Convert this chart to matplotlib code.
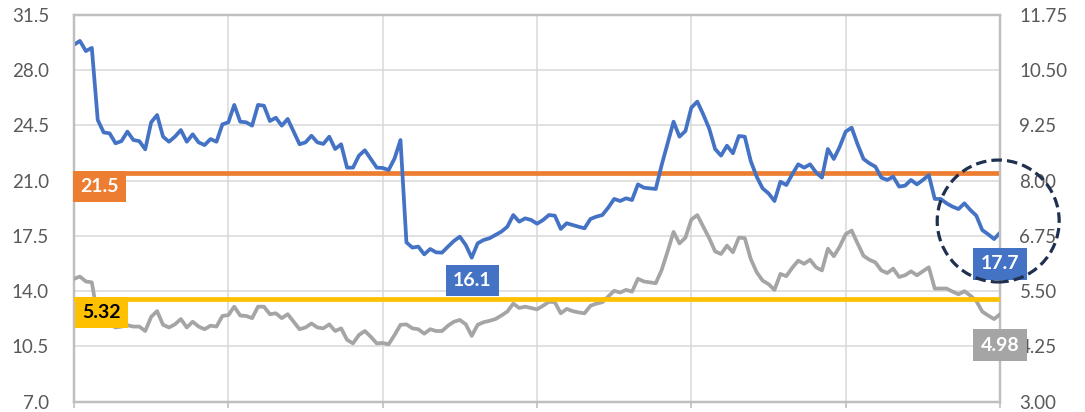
import numpy as np
import matplotlib
matplotlib.use("Agg")
import matplotlib.pyplot as plt
from matplotlib.patches import Ellipse

plt.rcParams['font.family'] = ['Lato', 'DejaVu Sans']

# left axis series (blue)
blue = [29.6, 29.84, 29.2, 29.4, 24.84, 24.05, 23.99, 23.36, 23.5, 24.1, 23.57, 23.5, 22.98, 24.69,
        25.15, 23.78, 23.46, 23.78, 24.2, 23.46, 23.93, 23.42, 23.25, 23.63, 23.46, 24.56, 24.69,
        25.79, 24.73, 24.69, 24.48, 25.79, 25.74, 24.77, 24.98, 24.48, 24.9, 24.1, 23.3, 23.42,
        23.84, 23.42, 23.32, 23.78, 23.0, 23.3, 21.82, 21.82, 22.58, 22.92, 22.37, 21.82, 21.8,
        21.67, 22.4, 23.57, 17.09, 16.76, 16.82, 16.33, 16.67, 16.46, 16.44, 16.82, 17.18, 17.45,
        16.92, 16.12, 17.03, 17.24, 17.35, 17.56, 17.77, 18.08, 18.82, 18.4, 18.61, 18.51, 18.27,
        18.5, 18.82, 18.78, 17.94, 18.3, 18.19, 18.08, 17.98, 18.57, 18.72, 18.82, 19.29, 19.84,
        19.71, 19.88, 19.77, 20.76, 20.55, 20.51, 20.47, 21.99, 23.36, 24.73, 23.78, 24.14, 25.62,
        26.0, 25.19, 24.3, 23.0, 22.58, 23.21, 22.73, 23.82, 23.78, 22.24, 21.25, 20.51, 20.19,
        19.71, 20.93, 20.72, 21.4, 22.03, 21.82, 22.03, 21.52, 21.19, 23.0, 22.37, 23.15, 24.1,
        24.35, 23.3, 22.37, 22.09, 21.88, 21.19, 21.04, 21.25, 20.62, 20.68, 21.04, 20.76, 21.04,
        21.35, 19.84, 19.84, 19.56, 19.35, 19.2, 19.56, 19.14, 18.78, 17.87, 17.6, 17.3, 17.7]

# right axis series (gray)
gray = [5.78, 5.83, 5.72, 5.70, 4.92, 4.76, 4.75, 4.68, 4.70, 4.73, 4.70, 4.70, 4.60, 4.92,
        5.05, 4.74, 4.68, 4.75, 4.87, 4.68, 4.81, 4.70, 4.64, 4.72, 4.70, 4.94, 4.96,
        5.15, 4.95, 4.94, 4.89, 5.15, 5.15, 4.98, 5.0, 4.89, 4.98, 4.81, 4.64, 4.68,
        4.77, 4.68, 4.66, 4.75, 4.60, 4.66, 4.40, 4.32, 4.51, 4.60, 4.47, 4.32, 4.33,
        4.30, 4.51, 4.74, 4.75, 4.66, 4.64, 4.54, 4.64, 4.60, 4.60, 4.72, 4.81, 4.85,
        4.75, 4.49, 4.74, 4.80, 4.83, 4.87, 4.95, 5.04, 5.22, 5.12, 5.15, 5.12, 5.09,
        5.17, 5.26, 5.25, 5.0, 5.10, 5.05, 5.02, 5.0, 5.17, 5.22, 5.25, 5.38, 5.51,
        5.47, 5.53, 5.49, 5.78, 5.72, 5.70, 5.68, 5.98, 6.40, 6.84, 6.58, 6.71, 7.12,
        7.22, 6.96, 6.70, 6.40, 6.34, 6.53, 6.38, 6.71, 6.70, 6.23, 5.93, 5.74, 5.66,
        5.53, 5.89, 5.84, 6.03, 6.19, 6.12, 6.21, 6.04, 5.97, 6.46, 6.29, 6.51, 6.79,
        6.87, 6.58, 6.30, 6.21, 6.15, 5.97, 5.91, 6.01, 5.82, 5.86, 5.95, 5.86, 5.95,
        6.04, 5.56, 5.56, 5.56, 5.49, 5.43, 5.50, 5.40, 5.28, 5.04, 4.95, 4.87, 4.98]

blue_ref = 21.5
gray_ref = 5.32
left_ticks = [7.0, 10.5, 14.0, 17.5, 21.0, 24.5, 28.0, 31.5]
right_ticks = [3.00, 4.25, 5.50, 6.75, 8.00, 9.25, 10.50, 11.75]

BLUE = '#4472C4'
GRAY = '#A5A5A5'
ORANGE = '#ED7D31'
YELLOW = '#FFC000'
NAVY = '#1F3050'
GRID = '#D9D9D9'
TXT = '#595959'

x = np.arange(len(blue))
n = len(blue) - 1

fig = plt.figure(figsize=(10.85, 4.12), dpi=100)
ax = fig.add_axes([0.0682, 0.0248, 0.8535, 0.9395])
ax2 = ax.twinx()

ax.plot(x, blue, color=BLUE, lw=2.7, zorder=4, solid_joinstyle='round')
ax.axhline(blue_ref, color=ORANGE, lw=3.4, zorder=3)
ax2.plot(x, gray, color=GRAY, lw=2.7, zorder=3, solid_joinstyle='round')
ax2.axhline(gray_ref, color=YELLOW, lw=3.4, zorder=4)

ax.set_xlim(0, n)
ax.set_ylim(left_ticks[0], left_ticks[-1])
ax2.set_ylim(right_ticks[0], right_ticks[-1])
ax.set_yticks(left_ticks)
ax.set_yticklabels([f'{t:.1f}' for t in left_ticks])
ax2.set_yticks(right_ticks)
ax2.set_yticklabels([f'{t:.2f}' for t in right_ticks])
ax.set_xticks(np.linspace(0, n, 7))
ax.set_xticklabels([])

ax.grid(True, color=GRID, lw=1.1)
ax.set_axisbelow(True)
ax.tick_params(axis='y', length=0, pad=18, labelsize=13.5, labelcolor=TXT)
ax2.tick_params(axis='y', length=0, pad=14, labelsize=13.5, labelcolor=TXT)
ax.tick_params(axis='x', direction='out', length=4, color='#BFBFBF', width=1.2)
for a in (ax, ax2):
    for s in a.spines.values():
        s.set_color('#BFBFBF')
        s.set_linewidth(1.6)

box = dict(boxstyle='square,pad=0.38', lw=0)
fs = 14
ax2.annotate(f'{blue_ref}', xy=(0, blue_ref), xycoords=ax.transData,
             xytext=(18.5, -10), textcoords='offset points', ha='center', va='center',
             fontsize=fs, fontweight='bold', color='white',
             bbox=dict(box, fc=ORANGE), zorder=6, annotation_clip=False)
ax2.annotate(f'{gray_ref}', xy=(0, gray_ref), xytext=(20, -9.6),
             textcoords='offset points', ha='center', va='center',
             fontsize=fs, fontweight='bold', color='black',
             bbox=dict(box, fc=YELLOW), zorder=6, annotation_clip=False)
imin = int(np.argmin(blue))
ax2.annotate(f'{blue[imin]:.1f}', xy=(imin, blue[imin]), xycoords=ax.transData,
             xytext=(0.6, -16.4), textcoords='offset points', ha='center', va='center',
             fontsize=fs, fontweight='bold', color='white',
             bbox=dict(box, fc=BLUE), zorder=6, annotation_clip=False)
ax2.annotate(f'{blue[-1]:.1f}', xy=(n, blue[-1]), xycoords=ax.transData,
             xytext=(0, -22.5), textcoords='offset points', ha='center', va='center',
             fontsize=fs, fontweight='bold', color='white',
             bbox=dict(box, fc=BLUE), zorder=6, annotation_clip=False)
ax2.annotate(f'{gray[-1]:.2f}', xy=(n, gray[-1]),
             xytext=(0, -22.2), textcoords='offset points', ha='center', va='center',
             fontsize=fs, fontweight='bold', color='white',
             bbox=dict(box, fc=GRAY), zorder=6, annotation_clip=False)

circle = Ellipse((0.998, 0.467), 0.1317, 0.315, transform=ax2.transAxes,
                 fill=False, ec=NAVY, lw=2.3, ls=(0, (3.3, 1.6)), clip_on=False, zorder=7)
ax2.add_patch(circle)

fig.savefig('out.png', dpi=100)
